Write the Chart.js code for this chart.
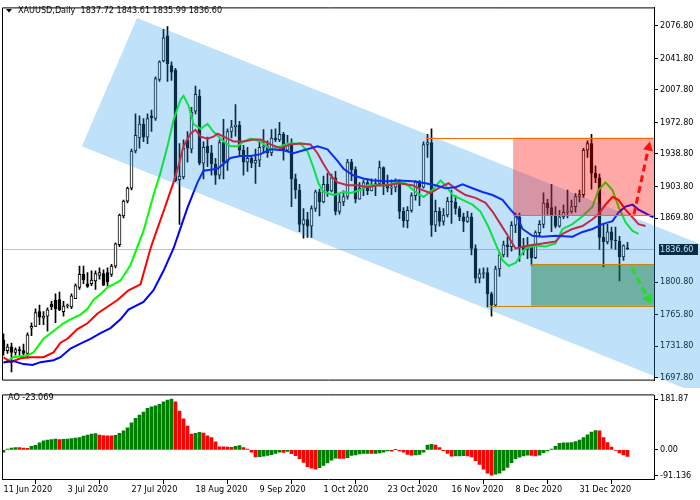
<!DOCTYPE html>
<html>
<head>
<meta charset="utf-8">
<script src="https://cdn.jsdelivr.net/npm/chart.js@4.4.0/dist/chart.umd.min.js"></script>
<style>
  html, body { margin: 0; padding: 0; background: #fff; }
  #wrap { position: relative; width: 700px; height: 500px; overflow: hidden; }
  canvas { position: absolute; left: 0; }
</style>
</head>
<body>
<div id="wrap">
  <canvas id="main" width="700" height="388" style="top:0"></canvas>
  <canvas id="ao" width="700" height="112" style="top:388px"></canvas>
</div>
<script>
// XAUUSD daily, 11 Jun 2020 .. 19 Jan 2021 (one entry per bar)
const symbolName = 'XAUUSD';
const periodName = 'Daily';

const opens = [
  1738,1727,1731,1725,1728,1727,1724,1751,1753,1769, 1762,1764,1777,1781,1782,1769,1775,1774,1783,1795,
  1809,1799,1799,1802,1808,1810,1811,1809,1818,1841, 1872,1888,1902,1942,1956,1971,1957,1980,1977,2019,
  2039,2066,2034,2029,1911,1914,1954,1944,1985,2001, 1929,1947,1940,1928,1916,1951,1930,1963,1968,1970,
  1943,1930,1934,1929,1932,1946,1947,1940,1956,1954, 1960,1943,1950,1912,1900,1863,1868,1861,1880,1898,
  1887,1906,1899,1913,1877,1887,1893,1930,1922,1890, 1902,1908,1899,1904,1907,1924,1904,1902,1903,1908,
  1877,1867,1878,1894,1909,1903,1949,1951,1862,1877, 1866,1873,1888,1887,1880,1871,1866,1871,1837,1805,
  1810,1811,1788,1776,1815,1830,1841,1839,1862,1871, 1839,1836,1839,1827,1854,1863,1886,1881,1872,1861,
  1871,1876,1877,1882,1893,1895,1943,1950,1918,1913, 1849,1844,1855,1846,1845,1828,1837.72
];
const highs = [
  1745,1734,1735,1730,1731,1734,1746,1757,1772,1776, 1769,1773,1780,1788,1790,1780,1777,1788,1799,1818,
  1818,1811,1813,1813,1816,1814,1816,1820,1843,1874, 1889,1903,1944,1982,1980,1977,1982,1986,2022,2039,
  2073,2076,2038,2031,1950,1954,1963,1989,2012,2008, 1952,1957,1948,1934,1954,1976,1966,1975,1992,1974,
  1948,1946,1936,1944,1952,1965,1953,1965,1966,1973, 1962,1959,1955,1917,1906,1880,1876,1883,1900,1901,
  1915,1918,1917,1920,1895,1899,1933,1933,1925,1908, 1911,1912,1912,1912,1931,1925,1916,1911,1912,1911,
  1881,1882,1897,1910,1910,1952,1960,1966,1889,1881, 1880,1892,1900,1894,1882,1875,1877,1875,1841,1815,
  1816,1816,1790,1818,1833,1845,1849,1866,1875,1875, 1848,1849,1840,1856,1867,1897,1890,1906,1882,1878,
  1884,1900,1889,1896,1900,1945,1953,1960,1926,1917, 1864,1863,1860,1860,1850,1841,1843.61
];
const lows = [
  1722,1724,1704,1722,1722,1719,1719,1743,1753,1755, 1755,1748,1771,1757,1770,1764,1773,1772,1783,1793,
  1799,1795,1797,1793,1804,1797,1797,1807,1816,1839, 1870,1886,1900,1940,1945,1952,1950,1963,1975,2017,
  2038,2017,2018,1909,1863,1912,1930,1940,1982,1927, 1912,1925,1916,1906,1912,1912,1921,1956,1958,1936,
  1916,1920,1924,1907,1925,1940,1935,1937,1952,1952, 1932,1942,1882,1891,1855,1848,1849,1849,1877,1872,
  1886,1893,1898,1873,1874,1883,1890,1910,1886,1890, 1894,1895,1899,1894,1904,1895,1898,1895,1898,1869,
  1860,1859,1876,1889,1883,1902,1935,1850,1855,1861, 1862,1871,1864,1874,1867,1855,1865,1830,1800,1800,
  1805,1774,1764,1774,1807,1828,1828,1834,1854,1823, 1830,1826,1819,1826,1850,1859,1874,1855,1859,1860,
  1869,1870,1875,1876,1887,1892,1935,1901,1908,1836, 1817,1842,1837,1836,1802,1824,1835.99
];
const closes = [
  1727,1731,1725,1728,1727,1724,1744,1753,1768,1763, 1764,1771,1774,1772,1771,1775,1776,1786,1797,1809,
  1803,1796,1803,1810,1811,1797.5,1801,1818,1842,1873, 1888,1902,1942,1959,1971,1957,1977,1978,2020,2038,
  2064,2036,2027,1910,1915,1945,1945,1984,2003,1929, 1946,1940,1928,1916,1951,1930,1963,1968,1970,1943,
  1930,1934,1929,1932,1946,1947,1940,1956,1954,1960, 1943,1950,1912,1900,1863,1868,1861,1880,1898,1887,
  1906,1899,1913,1877,1887,1893,1930,1922,1890,1902, 1908,1899,1904,1907,1924,1904,1902,1903,1908,1877,
  1867,1878,1894,1909,1903,1949,1951,1862,1877,1866, 1873,1888,1887,1880,1871,1866,1871,1837,1805,1810,
  1811,1788,1776,1815,1830,1841,1839,1862,1871,1839, 1836,1839,1827,1854,1863,1886,1881,1872,1861,1871,
  1876,1877,1882,1893,1895,1943,1950,1918,1913,1849, 1844,1855,1846,1845,1828,1840,1836.60
];

// Alligator lines: bar position and price
const jawIdx = [0,2.5,5,7.25,9.25,12.5,14.25,16.75,19.25,21.75,24.25,26.75,29.25,31.25,35,37.5,40,42.5,43.75,46,
  48.5,50,53.5,55,56.75,59.25,61.75,64.25,66.75,70,72.5,75,78.5,81,83.5,85,87.5,90,92.5,96,
  98.75,102.25,105.5,108,110.5,113,114.75,117.25,119.75,122.25,124.75,126.75,128.5,129.75,132.25,134.75,138,142.25,144.75,147.25,
  149.75,152.25,153.75,155.5,157.25,158.75,161,162.5];
const jawVal = [1714.5,1715.6,1712.4,1711.4,1714.5,1716.6,1719.8,1729.2,1734.4,1739.7,1745.9,1751.2,1760.6,1771.1,1779.4,1792.0,1812.9,1837.0,1852.7,1881.0,
  1908.2,1920.8,1922.9,1928.1,1934.4,1936.5,1936.5,1938.6,1943.8,1942.8,1939.6,1942.8,1947.0,1943.8,1931.3,1922.9,1915.6,1912.4,1910.3,1909.3,
  1910.3,1909.3,1907.2,1905.1,1901.9,1903.0,1906.1,1901.9,1897.8,1894.6,1889.4,1878.9,1870.5,1858.0,1850.6,1849.6,1850.6,1849.6,1854.8,1858.0,
  1863.2,1866.4,1875.8,1882.1,1884.2,1878.9,1873.7,1870.5];
const teethIdx = [0,1.75,4.25,6.75,10,12.5,14.25,16,18.5,21,23.5,26,28.5,31.25,34.25,36.75,38,40,42.5,43.75,
  45,46.75,48,49.25,51,52.5,53.5,55,57.5,60,62.5,64.25,66.75,69.25,71.75,74.25,76.75,78.5,80,81.75,
  83.5,86,88.5,91,93.5,96,98.75,102.25,104.75,106.75,108.75,111.25,113.5,115.5,118,120.5,122.25,124.25,126.25,128,
  131.25,134.75,138,139.75,142.25,144.75,147.25,148.75,150.5,152.25,153.75,155.5,157.25,158.75,160.5];
const teethVal = [1719.8,1714.5,1718.7,1719.8,1719.8,1725.0,1735.5,1739.7,1750.1,1756.4,1766.9,1774.2,1781.5,1792.0,1798.3,1837.0,1852.7,1876.8,1908.2,1926.0,
  1947.0,1960.6,1964.8,1957.4,1955.3,1957.4,1960.6,1957.4,1952.2,1952.2,1954.3,1954.3,1949.1,1944.9,1949.1,1950.1,1949.1,1939.6,1928.1,1915.6,
  1908.2,1905.1,1905.1,1903.0,1905.1,1905.1,1907.2,1905.1,1899.9,1896.7,1901.9,1907.2,1899.9,1894.6,1891.5,1886.2,1876.8,1863.2,1849.6,1837.0,
  1840.2,1842.3,1844.4,1852.7,1858.0,1861.1,1868.4,1873.7,1884.2,1892.5,1889.4,1878.9,1870.5,1863.2,1861.1];
const lipsIdx = [0,2.5,6,7.5,10,12.5,15,16.75,19.25,21,22.5,24.25,26,27.5,29.25,31,31.75,35,37.5,39.25,
  41,42.5,44.25,45,46.25,47.5,49.25,51,52.5,55,56.75,58.5,60,61.75,64.25,66.75,69.25,71,74.25,76,
  77.5,78.75,80,82.5,85,86.75,89.25,91,93.5,96,98,100.5,103,105,107.25,109.25,110.5,112.25,114.75,117.25,
  119.25,121.25,123,124.75,126.25,128,130.5,133,135.5,138,139.75,142.25,144.75,147.25,148.75,150.5,152.25,153.75,155.5,157.25,158.75];
const lipsVal = [1713.5,1719.8,1721.9,1725.0,1739.7,1748.0,1756.4,1760.6,1765.8,1772.1,1781.5,1787.8,1795.2,1798.3,1802.5,1814.0,1819.2,1855.9,1894.6,1918.7,
  1947.0,1975.2,1997.2,2001.4,1990.9,1971.1,1965.8,1971.1,1962.7,1952.2,1947.0,1947.0,1952.2,1955.3,1952.2,1943.8,1947.0,1950.1,1950.1,1941.7,
  1923.9,1907.2,1897.8,1894.6,1897.8,1896.7,1899.9,1905.1,1905.1,1905.1,1908.2,1907.2,1897.8,1892.5,1899.9,1910.3,1905.1,1894.6,1889.4,1884.2,
  1876.8,1860.1,1842.3,1824.5,1818.2,1821.3,1837.0,1840.2,1839.1,1842.3,1858.0,1863.2,1871.6,1882.1,1899.9,1908.2,1899.9,1882.1,1865.3,1855.9,1852.7];

// Awesome Oscillator, one value per bar
const aoValues = [
  -8,3,6,8.5,8,6,5.5,13,16,25, 32,35,37,39,37,38,38.5,40,42,44,
  49,53,56.5,58,53,51,50.5,50,52,59, 68,79,97,113,125,135,149,154,158,163,
  172,178,181.87,172,139,111,85,57,59,63, 60,50,44,29,11,10.5,10,9.5,13,15,
  8,3,-8,-25,-24.5,-23,-20,-17,-13,-8, -9,-6,-14,-21,-32,-45,-60,-66,-69,-64,
  -56,-47,-37,-30,-30.5,-31,-28,-20,-18,-15, -13,-12.5,-13,-12.5,-11,-8,-4,-4.5,1,-4,
  -8,-16,-19,-18,-16,-8,17,20,17,8, -3,-13,-22.5,-22,-21.5,-21,-21.5,-25,-39,-52,
  -69,-84,-91.136,-87,-84,-74,-63,-46,-32,-26, -22,-19,-19.5,-22,-19,-10,-4,3,13,23,
  25,25.5,26,30,35,44,54,64,69,68.5, 44,26,10,-2,-11,-18,-23.069
];

// axis labels
const dateLabels = ['11 Jun 2020','3 Jul 2020','27 Jul 2020','18 Aug 2020','9 Sep 2020',
  '1 Oct 2020','23 Oct 2020','16 Nov 2020','8 Dec 2020','31 Dec 2020'];
const dateTickIdx = [0,16,32,48,64,80,96,112,128,144];
const priceTicks = [2076.80,2041.80,2007.80,1972.80,1938.80,1903.80,1869.80,1800.80,1765.80,1731.80,1697.80];
const aoTicks = [181.87, 0, -91.136];
const aoTickLabels = ['181.87', '0.00', '-91.136'];

// drawn objects, in bar / price units
const channelPts = [[33.4, 2085.2], [19.6, 1947.0], [219.6, 1601.0], [233.4, 1739.2]];
const sellZone = { from: 127.4, top: 1956.4, bottom: 1872.6 };
const buyZone = { from: 131.9, top: 1820.3, bottom: 1775.3 };
const highLineFrom = 105.6;
const lowLineFrom = 121.4;
const upArrow = [[157.6, 1873.7], [161.6, 1952.2]];
const downArrow = [[157.1, 1816.1], [161.9, 1777.4]];

const FONT = '9px "DejaVu Sans Condensed", "DejaVu Sans", sans-serif';
const X_MIN = -0.375, X_MAX = 162.625;

const idx = opens.map((_, i) => i);
const lastClose = closes[closes.length - 1];

function lineData(xs, ys) { return xs.map((x, k) => ({ x: x, y: ys[k] })); }

function arrow(ctx, x0, y0, x1, y1, color) {
  const a = Math.atan2(y1 - y0, x1 - x0);
  const hl = 9, hw = 5;
  const bx = x1 - hl * Math.cos(a), by = y1 - hl * Math.sin(a);
  ctx.strokeStyle = color;
  ctx.lineWidth = 3;
  ctx.setLineDash([7, 4]);
  ctx.beginPath();
  ctx.moveTo(x0, y0);
  ctx.lineTo(bx, by);
  ctx.stroke();
  ctx.setLineDash([]);
  ctx.fillStyle = color;
  ctx.beginPath();
  ctx.moveTo(x1, y1);
  ctx.lineTo(bx + hw * Math.sin(a), by - hw * Math.cos(a));
  ctx.lineTo(bx - hw * Math.sin(a), by + hw * Math.cos(a));
  ctx.closePath();
  ctx.fill();
}

const mainDecor = {
  id: 'mainDecor',
  beforeDatasetsDraw(chart) {
    const { ctx, chartArea: a, scales: { y } } = chart;
    ctx.save();
    // current price line
    const py = Math.round(y.getPixelForValue(lastClose)) + 0.5;
    ctx.strokeStyle = '#c0c0c0';
    ctx.lineWidth = 1;
    ctx.beginPath();
    ctx.moveTo(a.left, py);
    ctx.lineTo(a.right, py);
    ctx.stroke();
    // frame
    ctx.strokeStyle = '#000';
    ctx.beginPath();
    ctx.moveTo(a.right, a.top + 0.5);
    ctx.lineTo(a.left + 0.5, a.top + 0.5);
    ctx.lineTo(a.left + 0.5, a.bottom - 0.5);
    ctx.lineTo(a.right, a.bottom - 0.5);
    ctx.stroke();
    ctx.restore();
  },
  afterDatasetsDraw(chart) {
    const { ctx, chartArea: a, scales: { x, y } } = chart;
    const px = v => x.getPixelForValue(v);
    const py = v => y.getPixelForValue(v);
    ctx.save();

    // last price box on the scale
    const cy = Math.round(py(lastClose));
    ctx.fillStyle = '#000';
    ctx.fillRect(a.right + 5, cy - 5, 39, 11);
    ctx.fillStyle = '#fff';
    ctx.font = FONT;
    ctx.textBaseline = 'middle';
    ctx.fillText(lastClose.toFixed(2), a.right + 6, cy + 0.5);

    // channel
    ctx.save();
    ctx.beginPath();
    ctx.rect(a.left, a.top, chart.width - a.left, chart.height - a.top);
    ctx.clip();
    ctx.fillStyle = 'rgba(34,153,238,0.29)';
    ctx.beginPath();
    channelPts.forEach(([i, p], k) => k ? ctx.lineTo(px(i), py(p)) : ctx.moveTo(px(i), py(p)));
    ctx.closePath();
    ctx.fill();
    ctx.restore();

    // zones
    ctx.save();
    ctx.beginPath();
    ctx.rect(a.left, a.top, a.right - a.left, a.bottom - a.top);
    ctx.clip();
    ctx.fillStyle = 'rgba(255,0,0,0.34)';
    ctx.fillRect(px(sellZone.from), py(sellZone.top), a.right - px(sellZone.from), py(sellZone.bottom) - py(sellZone.top));
    ctx.fillStyle = 'rgba(0,110,40,0.42)';
    ctx.fillRect(px(buyZone.from), py(buyZone.top), a.right - px(buyZone.from), py(buyZone.bottom) - py(buyZone.top));

    const hline = (from, price, color) => {
      const yy = Math.round(py(price)) + 0.5;
      ctx.strokeStyle = color;
      ctx.lineWidth = 1;
      ctx.beginPath();
      ctx.moveTo(px(from), yy);
      ctx.lineTo(a.right, yy);
      ctx.stroke();
    };
    hline(highLineFrom, sellZone.top, '#ff6a00');
    hline(sellZone.from, sellZone.bottom, '#ff6a00');
    hline(buyZone.from, buyZone.top, '#c8860a');
    hline(lowLineFrom, buyZone.bottom, '#c8860a');

    arrow(ctx, px(upArrow[0][0]), py(upArrow[0][1]), px(upArrow[1][0]), py(upArrow[1][1]), '#ff1010');
    arrow(ctx, px(downArrow[0][0]), py(downArrow[0][1]), px(downArrow[1][0]), py(downArrow[1][1]), '#22dd22');
    ctx.restore();

    // title
    ctx.fillStyle = '#000';
    ctx.beginPath();
    ctx.moveTo(6, 9); ctx.lineTo(12, 9); ctx.lineTo(9, 12.5);
    ctx.closePath();
    ctx.fill();
    ctx.font = FONT;
    ctx.textBaseline = 'middle';
    const last = opens.length - 1;
    ctx.fillText(symbolName + ',' + periodName + '  ' + opens[last].toFixed(2) + ' ' + highs[last].toFixed(2) + ' ' +
      lows[last].toFixed(2) + ' ' + closes[last].toFixed(2), 18, 11);
    ctx.restore();
  }
};

new Chart(document.getElementById('main'), {
  type: 'bar',
  data: {
    datasets: [
      { type: 'bar', data: idx.map(i => ({ x: i, y: [lows[i], highs[i]] })), backgroundColor: '#000',
        barThickness: 1, grouped: false, order: 3 },
      { type: 'bar', data: idx.map(i => ({ x: i, y: [Math.min(opens[i], closes[i]), Math.max(opens[i], closes[i])] })),
        backgroundColor: idx.map(i => closes[i] >= opens[i] ? '#ffffff' : '#000000'),
        borderColor: '#000', borderWidth: 1, borderSkipped: false, barThickness: 3, minBarLength: 1,
        grouped: false, order: 2 },
      { type: 'line', data: lineData(jawIdx, jawVal), borderColor: '#0000ff', borderWidth: 2, pointRadius: 0, order: 1 },
      { type: 'line', data: lineData(teethIdx, teethVal), borderColor: '#ff0000', borderWidth: 2, pointRadius: 0, order: 1 },
      { type: 'line', data: lineData(lipsIdx, lipsVal), borderColor: '#00ff00', borderWidth: 2, pointRadius: 0, order: 1 }
    ]
  },
  options: {
    responsive: false,
    animation: false,
    events: [],
    layout: { padding: { left: 2, top: 2, right: 0, bottom: 2 } },
    plugins: { legend: { display: false }, tooltip: { enabled: false } },
    scales: {
      x: { type: 'linear', min: X_MIN, max: X_MAX, offset: false, display: false },
      y: {
        position: 'right', min: 1694.64, max: 2096.69,
        afterFit(s) { s.width = 46; },
        afterBuildTicks(s) { s.ticks = priceTicks.map(v => ({ value: v })); },
        ticks: { autoSkip: false, padding: 2, color: '#000', font: { family: '"DejaVu Sans Condensed", "DejaVu Sans", sans-serif', size: 9 },
          callback: v => v.toFixed(2) },
        grid: { drawOnChartArea: false, tickLength: 4, color: '#000' },
        border: { color: '#000' }
      }
    }
  },
  plugins: [mainDecor]
});

const aoDecor = {
  id: 'aoDecor',
  afterDatasetsDraw(chart) {
    const { ctx, chartArea: a } = chart;
    ctx.save();
    ctx.strokeStyle = '#000';
    ctx.lineWidth = 1;
    ctx.beginPath();
    ctx.moveTo(a.right, a.top - 0.5);
    ctx.lineTo(a.left + 0.5, a.top - 0.5);
    ctx.lineTo(a.left + 0.5, a.bottom);
    ctx.stroke();
    ctx.fillStyle = '#000';
    ctx.font = FONT;
    ctx.textBaseline = 'middle';
    ctx.fillText('AO ' + aoValues[aoValues.length - 1].toFixed(3), 8, 10);
    ctx.restore();
  }
};

new Chart(document.getElementById('ao'), {
  type: 'bar',
  data: {
    datasets: [{
      data: aoValues.map((v, i) => ({ x: i, y: v })),
      backgroundColor: aoValues.map((v, i) => (i === 0 || v > aoValues[i - 1]) ? '#008000' : '#ff0000'),
      barThickness: 3, grouped: false
    }]
  },
  options: {
    responsive: false,
    animation: false,
    events: [],
    layout: { padding: { left: 2, top: 1, right: 0, bottom: 0 } },
    plugins: { legend: { display: false }, tooltip: { enabled: false } },
    scales: {
      x: {
        type: 'linear', min: X_MIN, max: X_MAX, offset: false,
        afterFit(s) { s.height = 21; },
        afterBuildTicks(s) { s.ticks = dateTickIdx.map(v => ({ value: v })); },
        ticks: { autoSkip: false, maxRotation: 0, align: 'start', padding: 0, color: '#000',
          font: { family: '"DejaVu Sans Condensed", "DejaVu Sans", sans-serif', size: 9 },
          callback: (v, k) => dateLabels[k] },
        grid: { drawOnChartArea: false, tickLength: 5, color: '#000' },
        border: { color: '#000' }
      },
      y: {
        position: 'right', min: -104.45, max: 195.2,
        afterFit(s) { s.width = 46; },
        afterBuildTicks(s) { s.ticks = aoTicks.map(v => ({ value: v })); },
        ticks: { autoSkip: false, padding: 2, color: '#000', font: { family: '"DejaVu Sans Condensed", "DejaVu Sans", sans-serif', size: 9 },
          callback: (v, k) => aoTickLabels[k] },
        grid: { drawOnChartArea: false, tickLength: 4, color: '#000' },
        border: { color: '#000' }
      }
    }
  },
  plugins: [aoDecor]
});
</script>
</body>
</html>
